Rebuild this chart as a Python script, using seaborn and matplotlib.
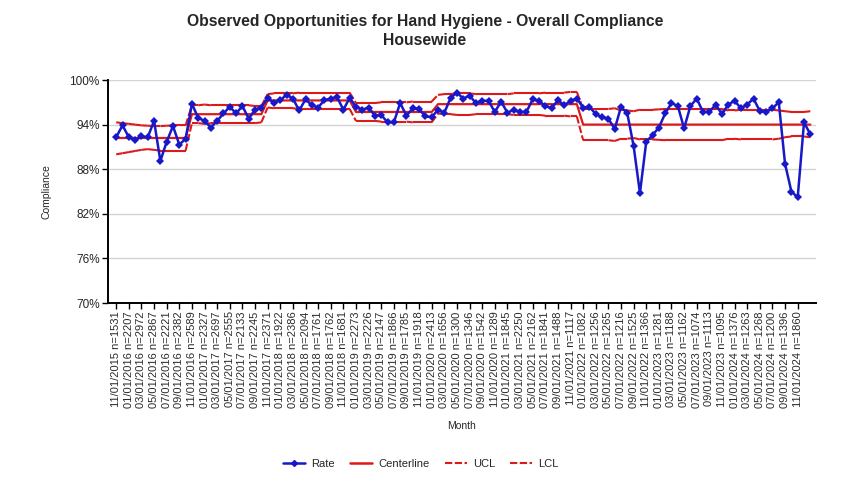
import numpy as np
import pandas as pd
import matplotlib
matplotlib.use("Agg")
import matplotlib.pyplot as plt
from matplotlib.lines import Line2D
import seaborn as sns

# === DATA ===
first_month = "2015-11-01"

# sample size shown on every other month label (11/2015 ... 11/2024)
label_n = [1531, 2207, 2972, 2867, 2221, 2382, 2589, 2327, 2697, 2555, 2133, 2245,
           2371, 1922, 2386, 2094, 1761, 1762, 1681, 2273, 2226, 2147, 1866, 1785,
           1918, 2413, 1656, 1300, 1346, 1542, 1289, 1845, 2250, 2162, 1841, 1488,
           1117, 1082, 1256, 1265, 1216, 1525, 1366, 1281, 1188, 1162, 1074, 1113,
           1095, 1376, 1263, 1268, 1200, 1396, 1860]

rate = [92.3, 93.9, 92.3, 91.9, 92.4, 92.3, 94.5, 89.1, 91.7, 93.8, 91.3, 92.1,
        96.8, 94.9, 94.5, 93.6, 94.5, 95.5, 96.4, 95.5, 96.5, 94.8, 96.0, 96.3,
        97.6, 96.9, 97.3, 98.0, 97.5, 95.9, 97.4, 96.6, 96.3, 97.3, 97.5, 97.7,
        96.0, 97.6, 96.4, 96.0, 96.3, 95.2, 95.3, 94.3, 94.3, 96.9, 95.2, 96.2,
        96.1, 95.1, 95.0, 96.0, 95.6, 97.6, 98.3, 97.5, 97.9, 96.9, 97.2, 97.2,
        95.7, 97.1, 95.6, 96.0, 95.7, 95.7, 97.4, 97.2, 96.5, 96.2, 97.3, 96.6,
        97.2, 97.5, 96.3, 96.4, 95.4, 95.0, 94.8, 93.4, 96.4, 95.5, 91.1, 84.8,
        91.7, 92.6, 93.6, 95.5, 96.9, 96.5, 93.5, 96.5, 97.5, 95.7, 95.7, 96.7,
        95.4, 96.7, 97.2, 96.2, 96.7, 97.5, 95.8, 95.7, 96.2, 97.0, 88.7, 85.0,
        84.2, 94.3, 92.7]

centerline = ([92.2] * 12 + [95.4] * 12 + [97.25] * 14 + [95.7] * 13
              + [96.75] * 23 + [94.0] * 37)

ucl = ([94.3, 94.2, 94.1, 94.0, 93.9, 93.85, 93.8, 93.8, 93.85, 93.9, 93.9, 93.9]
       + [96.6, 96.6, 96.7, 96.6, 96.6, 96.6, 96.6, 96.6, 96.6, 96.6, 96.5, 96.5]
       + [98.1, 98.2, 98.2, 98.2, 98.2, 98.3, 98.3, 98.3, 98.3, 98.3, 98.3, 98.3, 98.3, 98.3]
       + [96.9, 96.9, 96.9, 96.9, 97.0, 97.0, 97.0, 97.0, 97.0, 97.1, 97.1, 97.1, 97.1]
       + [98.0, 98.1, 98.1, 98.2, 98.2, 98.2, 98.1, 98.1, 98.1, 98.1, 98.1, 98.1,
          98.2, 98.2, 98.2, 98.2, 98.2, 98.3, 98.3, 98.3, 98.3, 98.4, 98.4]
       + [96.1, 96.1, 96.1, 96.1, 96.1, 96.2, 95.9, 95.9, 95.8,
          96.0, 96.0, 96.0, 96.05, 96.1, 96.1, 96.1, 96.1,
          96.1, 96.1, 96.1, 96.1, 96.1, 96.1, 95.9,
          95.9, 96.0, 96.0, 96.0, 96.0, 96.0, 96.0, 95.9,
          95.8, 95.7, 95.7, 95.7, 95.8])

lcl = ([90.0, 90.15, 90.3, 90.45, 90.6, 90.7, 90.6, 90.5, 90.5, 90.5, 90.5, 90.5]
       + [94.2, 94.2, 94.1, 94.2, 94.2, 94.2, 94.2, 94.2, 94.2, 94.2, 94.2, 94.3]
       + [96.3, 96.2, 96.2, 96.2, 96.2, 96.1, 96.1, 96.1, 96.1, 96.1, 96.1, 96.1, 96.1, 96.1]
       + [94.5, 94.5, 94.5, 94.5, 94.4, 94.4, 94.4, 94.4, 94.4, 94.3, 94.3, 94.3, 94.3]
       + [95.5, 95.4, 95.4, 95.3, 95.3, 95.3, 95.4, 95.4, 95.4, 95.4, 95.4, 95.4,
          95.3, 95.3, 95.3, 95.3, 95.3, 95.2, 95.2, 95.2, 95.2, 95.1, 95.1]
       + [91.9, 91.9, 91.9, 91.9, 91.9, 91.8, 92.1, 92.1, 92.2,
          92.0, 92.0, 92.0, 91.95, 91.9, 91.9, 91.9, 91.9,
          91.9, 91.9, 91.9, 91.9, 91.9, 91.9, 92.1,
          92.1, 92.0, 92.0, 92.0, 92.0, 92.0, 92.0, 92.1,
          92.3, 92.4, 92.4, 92.4, 92.3])

# === PREPARE ===
months = pd.date_range(first_month, periods=len(rate), freq="MS")
df = pd.DataFrame({"idx": np.arange(len(rate)), "Month": months, "Rate": rate,
                   "Centerline": centerline, "UCL": ucl, "LCL": lcl})
tick_pos = df["idx"][::2][:len(label_n)]
tick_lbl = [f"{m:%m/%d/%Y} n={n}" for m, n in zip(df["Month"][::2], label_n)]

blue = "#1818C8"
red = "#DD1A1A"
dash = (0, (3.5, 1.2))

# === PLOT ===
sns.set_style("white")
plt.rcParams["font.family"] = ["Liberation Sans", "DejaVu Sans"]

fig = plt.figure(figsize=(8.5, 4.9), dpi=100)
ax = fig.add_axes([108 / 850, 1 - 303 / 490, (816 - 108) / 850, (303 - 80) / 490])

# limits drawn segment by segment so the dash pattern restarts every month
for col in ["UCL", "LCL"]:
    for i in range(len(df) - 1):
        ax.plot(df["idx"][i:i + 2], df[col][i:i + 2], color=red, lw=1.5,
                ls=dash, zorder=3)
sns.lineplot(data=df, x="idx", y="Centerline", ax=ax, color=red, lw=1.6, zorder=3)
sns.lineplot(data=df, x="idx", y="Rate", ax=ax, color=blue, lw=1.8, marker="D",
             markersize=4.4, markeredgewidth=0, zorder=5)

ax.set_ylim(70, 100)
ax.set_yticks(np.arange(70, 101, 6))
ax.set_yticklabels([f"{v}%" for v in range(70, 101, 6)], fontsize=8.5)
ax.set_xlim(-1.3, len(df) - 0.1)
ax.set_xticks(tick_pos)
ax.set_xticklabels(tick_lbl, rotation=90, fontsize=8, color="#2a2a2a")
ax.tick_params(axis="both", direction="out", length=4, width=1, color="black",
               left=True, bottom=True, pad=2)
ax.grid(axis="y", color="#D4D4D4", lw=1)
ax.set_axisbelow(True)
sns.despine(ax=ax)
for s in ["left", "bottom"]:
    ax.spines[s].set_color("black")
    ax.spines[s].set_linewidth(1.4)

ax.set_xlabel("Month", fontsize=7.5)
ax.set_ylabel("Compliance", fontsize=7.5)
ax.xaxis.set_label_coords(0.5, (303 - 421) / 223)
ax.yaxis.set_label_coords((52 - 108) / 708, 0.5)

fig.suptitle("Observed Opportunities for Hand Hygiene - Overall Compliance\nHousewide",
             x=0.5, y=1 - 14 / 490, va="top", fontsize=11.3, fontweight="bold",
             linespacing=1.3)

handles = [Line2D([], [], color=blue, lw=1.8, marker="D", markersize=3),
           Line2D([], [], color=red, lw=1.8),
           Line2D([], [], color=red, lw=1.5, ls=dash),
           Line2D([], [], color=red, lw=1.5, ls=dash)]
fig.legend(handles, ["Rate", "Centerline", "UCL", "LCL"], loc="center",
           bbox_to_anchor=(421 / 850, 1 - 464 / 490), ncol=4, frameon=False,
           fontsize=8, handlelength=2.0, columnspacing=1.35, handletextpad=0.55)

fig.savefig("out.png", dpi=100)
